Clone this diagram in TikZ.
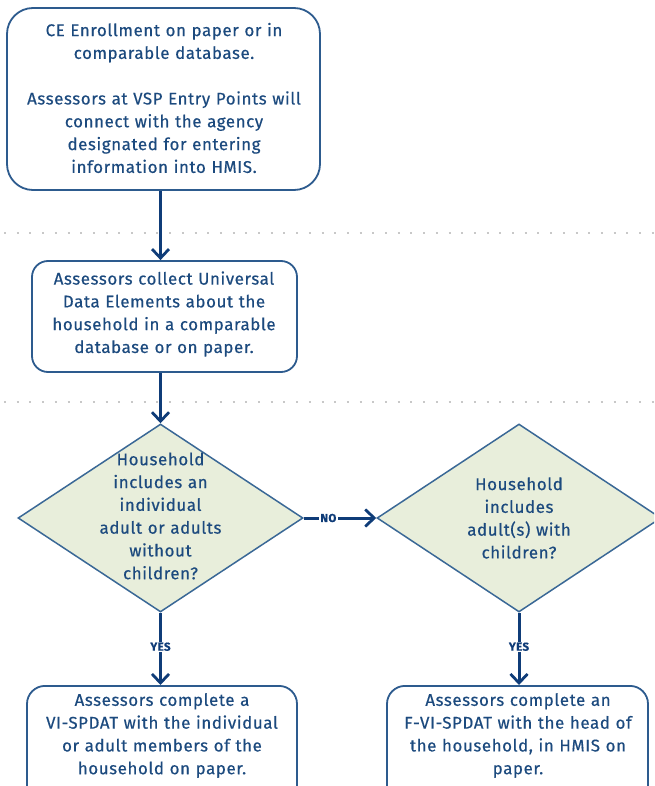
\documentclass[tikz,border=0pt]{standalone}
\usepackage{fontspec}
\setmainfont{Fira Sans}[LetterSpace=3.5,FakeBold=0.5]
\usetikzlibrary{shapes.geometric,arrows.meta}

\definecolor{inkblue}{HTML}{1C4A7E}
\definecolor{framblue}{HTML}{2D5B8E}
\definecolor{flowblue}{HTML}{0F3C78}
\definecolor{diafill}{HTML}{E8EEDB}
\definecolor{diaedge}{HTML}{3A6896}
\definecolor{sepgray}{HTML}{C8C8C8}

\tikzset{
  stepbox/.style={draw=framblue, line width=1.8pt, rectangle, inner sep=0pt},
  txt/.style={text=inkblue, align=center, inner sep=0pt,
    font=\fontsize{16.9}{22.8}\selectfont},
  decision/.style={draw=diaedge, fill=diafill, line width=1.5pt, diamond,
    inner sep=0pt},
  flow/.style={draw=flowblue, line width=3pt,
    -{Straight Barb[length=9pt,width=17pt,line width=2.8pt]}},
  answer/.style={fill=white, text=flowblue, inner xsep=1.5pt, inner ysep=1pt,
    font=\bfseries\fontsize{11.5}{12}\selectfont},
  separator/.style={draw=sepgray, line width=2pt, dash pattern=on 2pt off 10.7pt},
}

\begin{document}
\begin{tikzpicture}[x=1pt,y=-1pt]
  \useasboundingbox (0,0) rectangle (654,786);
  \clip (0,0) rectangle (654,786);

  % section separators
  \draw[separator] (4,233) -- (654,233);
  \draw[separator] (4,402) -- (654,402);

  % enrollment
  \node[stepbox, rounded corners=26pt, minimum width=313pt, minimum height=182pt]
    (enrol) at (163.5,99) {};
  \node[txt, text width=305pt] (enrolt) at (164,98)
    {CE Enrollment on paper or in\\comparable database.\\[22.8pt]
     Assessors at VSP Entry Points will\\connect with the agency\\
     designated for entering\\information into HMIS.};

  % universal data elements
  \node[stepbox, rounded corners=16pt, minimum width=265pt, minimum height=111pt]
    (ude) at (164.5,316.5) {};
  \node[txt, text width=260pt] (udet) at (164,314)
    {Assessors collect Universal\\Data Elements about the\\household in a comparable\\database or on paper.};

  % decisions
  \node[decision, minimum width=285pt, minimum height=188pt] (single) at (160.5,518) {};
  \node[txt, text width=150pt] (singlet) at (160.5,516)
    {Household\\includes an\\individual\\adult or adults\\without\\children?};

  \node[decision, minimum width=284pt, minimum height=188pt] (family) at (519,518) {};
  \node[txt, text width=150pt] (familyt) at (519,518)
    {Household\\includes\\adult(s) with\\children?};

  % assessments
  \node[stepbox, rounded corners=18pt, minimum width=270pt, minimum height=150pt,
    anchor=north] (vi) at (162,685) {};
  \node[txt, text width=265pt] (vit) at (162,735.5)
    {Assessors complete a\\VI-SPDAT with the individual\\or adult members of the\\household on paper.};

  \node[stepbox, rounded corners=18pt, minimum width=261pt, minimum height=150pt,
    anchor=north] (fvi) at (517.5,685) {};
  \node[txt, text width=258pt] (fvit) at (518,735.5)
    {Assessors complete an\\F-VI-SPDAT with the head of\\the household, in HMIS on\\paper.};

  % connectors
  \draw[flow] (enrol.south -| single) -- (ude.north -| single);
  \draw[flow] (ude.south -| single) -- (single.north);
  \draw[flow] (single.east) -- node[answer, pos=0.34] (no) {NO} (family.west);
  \draw[flow] (single.south) -- node[answer, pos=0.47] (yes1) {YES} (vi.north -| single);
  \draw[flow] (family.south) -- node[answer, pos=0.47] (yes2) {YES} (fvi.north -| family);
\end{tikzpicture}
\end{document}
